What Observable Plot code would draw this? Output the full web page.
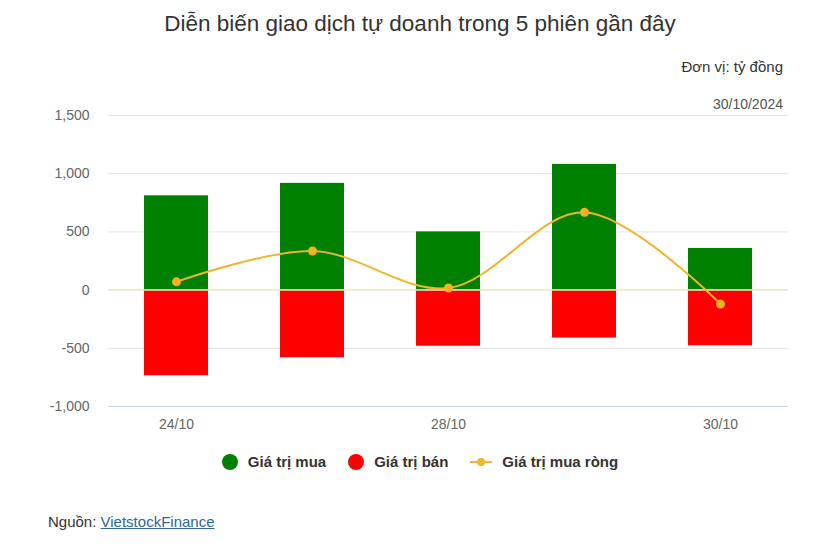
<!DOCTYPE html>
<html><head><meta charset="utf-8">
<script src="https://cdn.jsdelivr.net/npm/d3@7"></script>
<script src="https://cdn.jsdelivr.net/npm/@observablehq/plot@0.6"></script>
<style>
html,body{margin:0;padding:0;background:#fff;}
body{width:820px;height:548px;position:relative;font-family:"Liberation Sans",Arial,sans-serif;overflow:hidden;}
.abs{position:absolute;white-space:nowrap;}
#title{left:0;width:840px;text-align:center;top:11px;font-size:22.5px;color:#333;}
#unit{right:37px;top:58px;font-size:15px;color:#333;}
#date{right:37px;top:96px;font-size:14px;color:#555;}
#chart{left:0;top:100px;}
#legend{top:453px;left:10px;width:820px;display:flex;justify-content:center;gap:22px;font-size:15px;font-weight:bold;color:#333;}
#legend .it{display:flex;align-items:center;gap:10px;}
#legend .dot{width:16px;height:16px;border-radius:50%;display:inline-block;}
#src{left:48px;top:513px;font-size:15px;color:#333;}
#src a{color:#336699;text-decoration:underline;}
</style>
</head><body>
<div class="abs" id="title">Diễn biến giao dịch tự doanh trong 5 phiên gần đây</div>
<div class="abs" id="unit">Đơn vị: tỷ đồng</div>
<div class="abs" id="date">30/10/2024</div>
<div class="abs" id="chart"></div>
<div class="abs" id="legend">
  <span class="it"><span class="dot" style="background:#008000"></span>Giá trị mua</span>
  <span class="it"><span class="dot" style="background:#ff0000"></span>Giá trị bán</span>
  <span class="it"><svg width="22" height="10"><line x1="0" y1="5" x2="22" y2="5" stroke="#f2b526" stroke-width="2"/><circle cx="11" cy="5" r="4" fill="#f2b526"/></svg>Giá trị mua ròng</span>
</div>
<div class="abs" id="src">Nguồn: <a>VietstockFinance</a></div>
<script>
const dates = ["24/10", "25/10", "28/10", "29/10", "30/10"];
const buyValues = [810, 917, 500, 1080, 358];
const sellValues = [-736, -581, -482, -412, -478];
const netValues = [71, 336, 18, 668, -120];
const yTicks = [-1000, -500, 0, 500, 1000, 1500];
const xTickLabels = ["24/10", "28/10", "30/10"];

const rows = dates.map((d, i) => ({date: d, buy: buyValues[i], sell: sellValues[i], net: netValues[i]}));
const fmt = v => (v < 0 ? "-" : "") + d3.format(",")(Math.abs(v));

const chart = Plot.plot({
  width: 820,
  height: 340,
  marginTop: 15,
  marginBottom: 34,
  marginLeft: 108,
  marginRight: 32,
  style: {fontFamily: "'Liberation Sans', Arial, sans-serif", fontSize: "14px", color: "#666", background: "transparent"},
  x: {type: "band", domain: dates, paddingInner: 0.53, paddingOuter: 0.265, label: null},
  y: {domain: [-1000, 1500], label: null},
  marks: [
    Plot.gridY(yTicks, {stroke: "#e6e6e6", strokeOpacity: 1}),
    Plot.ruleY([-1000], {stroke: "#ccd6eb"}),
    Plot.barY(rows, {x: "date", y: "buy", fill: "#008000"}),
    Plot.barY(rows, {x: "date", y: "sell", fill: "#ff0000"}),
    Plot.ruleY([0], {stroke: "#f2e6c9", strokeWidth: 1.5}),
    Plot.lineY(rows, {x: "date", y: "net", stroke: "#f0b62a", strokeWidth: 2, curve: "catmull-rom"}),
    Plot.dot(rows, {x: "date", y: "net", r: 4.5, fill: "#f5b21f"}),
    Plot.axisY(yTicks, {tickSize: 0, tickPadding: 19, tickFormat: fmt, fill: "#666", fontSize: 14}),
    Plot.axisX(xTickLabels, {tickSize: 0, tickPadding: 13, fill: "#666", fontSize: 14})
  ]
});
document.getElementById("chart").appendChild(chart);
</script>
</body></html>
